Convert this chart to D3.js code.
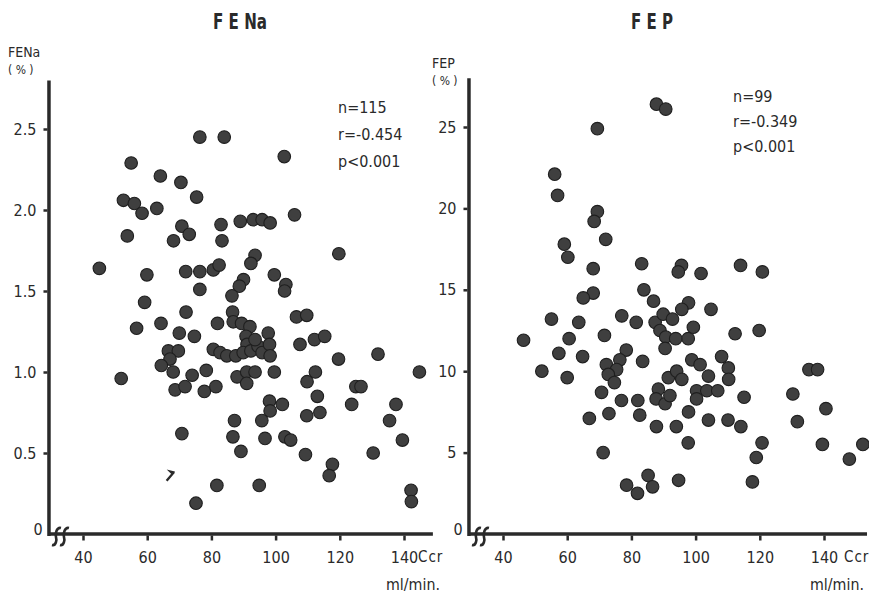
<!DOCTYPE html>
<html>
<head>
<meta charset="utf-8">
<script src="https://cdn.jsdelivr.net/npm/d3@7/dist/d3.min.js"></script>
<style>
  body { margin: 0; background: #fff; }
  text { font-family: "Liberation Sans Narrow", "DejaVu Sans Condensed", "Roboto", sans-serif; fill: #2a2a2a; }
</style>
</head>
<body>
<script>
// FENa panel: creatinine clearance (ml/min) vs FENa (%)
const fenaCcr = [76.4, 84.0, 102.7, 55.0, 64.1, 70.5, 75.4, 52.6, 56.0, 58.4, 63.0, 105.9, 89.0, 93.0, 95.8, 98.3,
  83.0, 53.8, 70.8, 73.1, 68.2, 83.3, 119.7, 45.1, 93.6, 92.3, 59.9, 72.0, 76.4, 80.6, 82.4, 99.6, 90.0, 88.7,
  103.2, 102.8, 76.4, 86.4, 59.2, 72.1, 86.6, 106.5, 109.7, 56.7, 64.3, 81.9, 70.0, 74.7, 107.6, 112.1, 115.3,
  119.6, 131.9, 51.9, 66.6, 69.7, 67.1, 64.4, 68.1, 74.0, 78.4, 68.7, 71.8, 77.8, 81.4, 99.6, 112.4, 109.8, 125.0,
  126.6, 144.8, 98.1, 98.3, 102.1, 113.0, 109.7, 113.8, 123.7, 137.5, 135.5, 87.2, 95.7, 70.8, 86.7, 96.7, 102.9,
  104.7, 139.5, 89.2, 109.3, 130.4, 117.7, 116.7, 81.7, 94.9, 75.2, 142.2, 142.3,
  86.8, 89.4, 92.0, 90.8, 91.1, 80.6, 82.7, 84.8, 87.6, 89.9, 92.3, 94.5, 95.8, 97.7, 98.1, 98.3, 93.6, 88.0,
  91.0, 93.6, 91.0];
const fenaVal = [2.45, 2.45, 2.33, 2.29, 2.21, 2.17, 2.08, 2.06, 2.04, 1.98, 2.01, 1.97, 1.93, 1.94, 1.94, 1.92,
  1.91, 1.84, 1.90, 1.85, 1.81, 1.81, 1.73, 1.64, 1.72, 1.67, 1.60, 1.62, 1.62, 1.63, 1.66, 1.60, 1.57, 1.53,
  1.54, 1.50, 1.51, 1.47, 1.43, 1.37, 1.37, 1.34, 1.35, 1.27, 1.30, 1.30, 1.24, 1.22, 1.17, 1.20, 1.22,
  1.08, 1.11, 0.96, 1.13, 1.13, 1.08, 1.04, 1.00, 0.98, 1.01, 0.89, 0.91, 0.88, 0.91, 1.00, 1.00, 0.94, 0.91,
  0.91, 1.00, 0.82, 0.76, 0.80, 0.85, 0.73, 0.75, 0.80, 0.80, 0.70, 0.70, 0.70, 0.62, 0.60, 0.59, 0.60,
  0.58, 0.58, 0.51, 0.49, 0.50, 0.43, 0.36, 0.30, 0.30, 0.19, 0.27, 0.20,
  1.31, 1.30, 1.28, 1.22, 1.17, 1.14, 1.12, 1.10, 1.10, 1.12, 1.13, 1.16, 1.12, 1.24, 1.17, 1.10, 1.20, 0.97,
  1.00, 1.00, 0.93];

// FEP panel: creatinine clearance (ml/min) vs FEP (%)
const fepCcr = [87.8, 90.7, 69.4, 56.1, 57.0, 69.4, 68.4, 72.0, 59.1, 60.2, 83.2, 68.1, 95.6, 94.6, 101.7, 114.0,
  120.8, 83.9, 68.1, 65.0, 86.9, 97.8, 95.7, 104.8, 55.1, 63.6, 77.0, 81.5, 87.4, 89.9, 92.8, 88.9, 90.7, 93.8,
  90.5, 97.7, 99.3, 112.3, 119.8, 46.4, 60.6, 71.6, 57.4, 64.8, 78.4, 76.4, 72.2, 75.4, 72.8, 74.7, 83.5, 52.1,
  60.0, 70.7, 66.9, 73.0, 76.9, 82.0, 82.6, 87.8, 94.0, 97.8, 88.4, 87.7, 90.5, 92.0, 91.5, 94.1, 95.7, 98.8,
  101.4, 104.0, 100.3, 103.5, 106.9, 100.3, 108.1, 110.2, 110.3, 104.0, 110.1, 114.1, 115.1, 97.7, 71.2, 78.5,
  81.9, 85.2, 86.6, 94.7, 117.7, 118.9, 120.7, 130.3, 131.7, 135.3, 138.0, 140.6, 139.5, 147.9, 152.1];
const fepVal = [26.4, 26.1, 24.9, 22.1, 20.8, 19.8, 19.2, 18.1, 17.8, 17.0, 16.6, 16.3, 16.5, 16.1, 16.0, 16.5,
  16.1, 15.0, 14.8, 14.5, 14.3, 14.2, 13.8, 13.8, 13.2, 13.0, 13.4, 13.0, 13.0, 13.5, 13.2, 12.5, 12.1, 12.0,
  11.4, 12.0, 12.7, 12.3, 12.5, 11.9, 12.0, 12.2, 11.1, 10.9, 11.3, 10.7, 10.4, 10.1, 9.8, 9.3, 10.6, 10.0,
  9.6, 8.7, 7.1, 7.4, 8.2, 8.2, 7.3, 6.6, 6.6, 7.5, 8.9, 8.3, 8.0, 8.5, 9.6, 10.0, 9.5, 10.7,
  10.4, 9.7, 8.8, 8.8, 8.8, 8.3, 10.9, 10.2, 9.5, 7.0, 7.0, 6.6, 8.4, 5.6, 5.0, 3.0,
  2.5, 3.6, 2.9, 3.3, 3.2, 4.7, 5.6, 8.6, 6.9, 10.1, 10.1, 7.7, 5.5, 4.6, 5.5];

const ccrTicks = [40, 60, 80, 100, 120, 140];
const fenaTicks = [0.5, 1.0, 1.5, 2.0, 2.5];
const fepTicks = [5, 10, 15, 20, 25];
const fenaStats = ['n=115', 'r=-0.454', 'p<0.001'];
const fepStats = ['n=99', 'r=-0.349', 'p<0.001'];

const W = 869, H = 595;
const ink = '#2a2a2a';

const svg = d3.select('body').append('svg')
  .attr('width', W)
  .attr('height', H);

svg.append('rect').attr('width', W).attr('height', H).attr('fill', '#fff');

function drawPanel(o) {
  const x = d3.scaleLinear().domain([40, 140]).range(o.xRange);
  const y = d3.scaleLinear().domain([0, o.yMax]).range([534, o.yTopPx]);
  const g = svg.append('g');
  const x0 = x(29.4);

  // title
  g.append('text')
    .attr('x', o.titleX).attr('y', 29)
    .attr('text-anchor', 'middle')
    .style('font-size', '22px').style('font-weight', 'bold')
    .attr('textLength', o.titleW).attr('lengthAdjust', 'spacingAndGlyphs')
    .text(o.title);

  // y label
  g.append('text')
    .attr('x', o.ylabX).attr('y', o.ylabY)
    .style('font-size', '14px')
    .text(o.ylab);
  g.append('text')
    .attr('x', o.ylabX).attr('y', o.ylabY + 17)
    .style('font-size', '12px')
    .attr('xml:space', 'preserve')
    .text('( % )');

  // y axis ticks
  const yAxis = d3.axisLeft(y)
    .tickValues(o.yTicks)
    .tickSize(4)
    .tickPadding(7)
    .tickFormat(o.fmt);
  const ya = g.append('g')
    .attr('transform', 'translate(' + (x0 - 1.5) + ',0)')
    .call(yAxis);
  ya.select('.domain').remove();
  ya.selectAll('.tick line').attr('stroke', ink).attr('stroke-width', 2.5);
  ya.selectAll('.tick text').style('font-size', '16px').attr('fill', ink)
    .style('font-family', '"Liberation Sans Narrow", "DejaVu Sans Condensed", sans-serif');

  // x axis ticks
  const xAxis = d3.axisBottom(x)
    .tickValues(ccrTicks)
    .tickSize(5)
    .tickPadding(11);
  const xa = g.append('g')
    .attr('transform', 'translate(0,' + (y(0) + 1.5) + ')')
    .call(xAxis);
  xa.select('.domain').remove();
  xa.selectAll('.tick line').attr('stroke', ink).attr('stroke-width', 2.5);
  xa.selectAll('.tick text').style('font-size', '16px').attr('fill', ink)
    .style('font-family', '"Liberation Sans Narrow", "DejaVu Sans Condensed", sans-serif');

  // heavy axis lines
  g.append('line')
    .attr('x1', x0).attr('x2', x0)
    .attr('y1', y(0) + 2).attr('y2', y(o.yAxisTop))
    .attr('stroke', ink).attr('stroke-width', 3.5);
  g.append('line')
    .attr('x1', x0).attr('x2', x(o.xAxisEnd))
    .attr('y1', y(0)).attr('y2', y(0))
    .attr('stroke', ink).attr('stroke-width', 3.5);

  // axis break
  [7, 15].forEach(function(dx) {
    g.append('path')
      .attr('transform', 'translate(' + (x0 + dx) + ',' + (y(0) + 2) + ')')
      .attr('d', 'M-4,9 C0,10 1,4 0,1 C-1,-3 1,-9 5,-8')
      .attr('fill', 'none')
      .attr('stroke', ink).attr('stroke-width', 2.6);
  });

  // zero label
  g.append('text')
    .attr('x', x0 - 11).attr('y', y(0) + 1)
    .attr('text-anchor', 'middle')
    .style('font-size', '16px')
    .text('0');

  // Ccr / ml/min.
  g.append('text')
    .attr('x', o.ccrX).attr('y', 562)
    .style('font-size', '15px')
    .style('letter-spacing', '1px')
    .text('Ccr');
  g.append('text')
    .attr('x', o.unitX).attr('y', 590)
    .style('font-size', '15px')
    .attr('textLength', 54).attr('lengthAdjust', 'spacingAndGlyphs')
    .text('ml/min.');

  // stats
  g.selectAll('.stat')
    .data(o.stats)
    .enter().append('text')
    .attr('class', 'stat')
    .attr('x', o.statX)
    .attr('y', function(d, i) { return o.statY + i * o.statGap; })
    .style('font-size', '16px')
    .text(function(d) { return d; });

  // points
  g.selectAll('circle')
    .data(d3.zip(o.xs, o.ys))
    .enter().append('circle')
    .attr('cx', function(d) { return x(d[0]); })
    .attr('cy', function(d) { return y(d[1]); })
    .attr('r', 6.3)
    .attr('fill', '#3f3f3f')
    .attr('stroke', '#1f1f1f')
    .attr('stroke-width', 1.1);

  return { g: g, x: x, y: y };
}

const left = drawPanel({
  xRange: [83, 404], yMax: 2.5, yTopPx: 129, yAxisTop: 2.8, xAxisEnd: 149,
  title: 'F E Na', titleX: 240, titleW: 54,
  ylab: 'FENa', ylabX: 8, ylabY: 57,
  yTicks: fenaTicks, fmt: d3.format('.1f'),
  ccrX: 418, unitX: 386,
  stats: fenaStats, statX: 338, statY: 113, statGap: 27,
  xs: fenaCcr, ys: fenaVal
});

// small broken mark near the lower-left of the FENa cloud
left.g.append('path')
  .attr('transform', 'translate(' + left.x(67.3) + ',' + left.y(0.36) + ')')
  .attr('d', 'M-4,5 L2,-2 L0,-4 L4,-3')
  .attr('fill', 'none')
  .attr('stroke', ink).attr('stroke-width', 2.4);

drawPanel({
  xRange: [503, 824], yMax: 25, yTopPx: 127, yAxisTop: 28, xAxisEnd: 153.4,
  title: 'F E P', titleX: 652, titleW: 42,
  ylab: 'FEP', ylabX: 432, ylabY: 68,
  yTicks: fepTicks, fmt: d3.format('d'),
  ccrX: 844, unitX: 810,
  stats: fepStats, statX: 733, statY: 102, statGap: 25,
  xs: fepCcr, ys: fepVal
});
</script>
</body>
</html>
